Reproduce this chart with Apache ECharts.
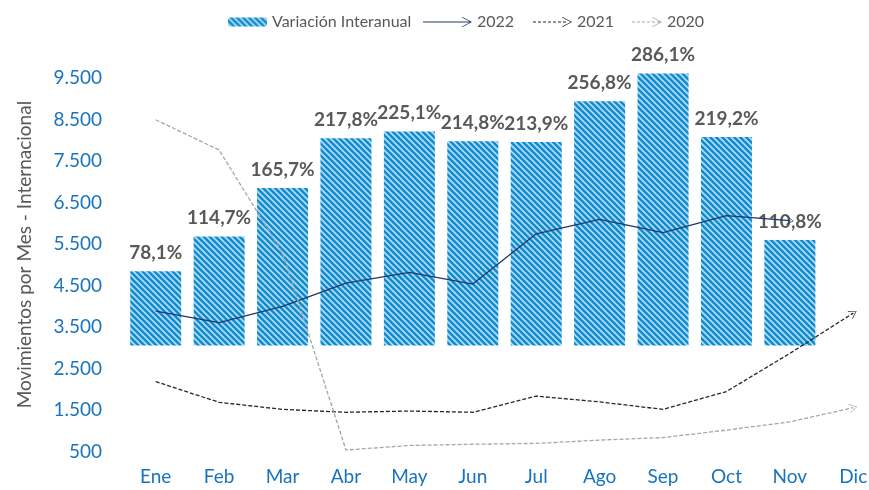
<!DOCTYPE html>
<html>
<head>
<meta charset="utf-8">
<script src="https://cdn.jsdelivr.net/npm/echarts@6/dist/echarts.min.js"></script>
<style>
  html, body { margin: 0; padding: 0; background: #fff; }
  #chart { width: 869px; height: 490px; }
</style>
</head>
<body>
<div id="chart"></div>
<script>
// datos
const meses = ['Ene', 'Feb', 'Mar', 'Abr', 'May', 'Jun', 'Jul', 'Ago', 'Sep', 'Oct', 'Nov', 'Dic'];
const variacion = [78.1, 114.7, 165.7, 217.8, 225.1, 214.8, 213.9, 256.8, 286.1, 219.2, 110.8];
const mov2022 = [3890, 3610, 4000, 4560, 4820, 4540, 5750, 6100, 5780, 6190, 6070];
const mov2021 = [2190, 1690, 1520, 1450, 1480, 1450, 1840, 1700, 1520, 1950, 2870, 3840];
const mov2020 = [8500, 7770, 5290, 540, 650, 680, 700, 780, 840, 1020, 1220, 1560];
const ticksY = [500, 1500, 2500, 3500, 4500, 5500, 6500, 7500, 8500, 9500];

const FONT = 'Lato';
const GRIS = '#595959';
const AZUL = '#1874BE';

// textura rayada de las barras
function stripes () {
  const c = document.createElement('canvas');
  c.width = 6;
  c.height = 6;
  const ctx = c.getContext('2d');
  ctx.fillStyle = '#138BCE';
  ctx.fillRect(0, 0, 6, 6);
  ctx.strokeStyle = '#b3e0f7';
  ctx.lineWidth = 1.6;
  ctx.beginPath();
  ctx.moveTo(-1, -1); ctx.lineTo(7, 7);
  ctx.moveTo(-1, 5); ctx.lineTo(1, 7);
  ctx.moveTo(5, -1); ctx.lineTo(7, 1);
  ctx.stroke();
  return c;
}

// icono de leyenda: linea (continua o a trazos) con punta de flecha abierta
function arrowIcon (w, dashed) {
  let p = '';
  if (dashed) {
    for (let x = 0; x < w - 4; x += 5) p += 'M' + x + ',4.4 h3 v1.2 h-3 Z ';
  } else {
    p += 'M0,4.4 H' + (w - 1) + ' V5.6 H0 Z ';
  }
  p += 'M' + (w - 10) + ',0.6 L' + (w - 9.4) + ',0 L' + w + ',5 L' + (w - 9.4) + ',10 L' +
       (w - 10) + ',9.4 L' + (w - 1.4) + ',5 Z';
  return 'path://' + p;
}
const chevron = 'path://M0.6,10 L0,9.4 L5,0 L10,9.4 L9.4,10 L5,1.4 Z';

function lastArrow (data, color) {
  const n = data.length - 1;
  return {
    silent: true,
    symbol: ['none', chevron],
    symbolSize: [9, 8],
    label: { show: false },
    lineStyle: { color: color, type: 'solid', width: 0 },
    data: [[{ coord: [n - 1, data[n - 1]] }, { coord: [n, data[n]] }]]
  };
}

const chart = echarts.init(document.getElementById('chart'));
const legendBase = {
  top: 9,
  itemHeight: 10,
  itemGap: 0,
  textStyle: { fontFamily: FONT, fontSize: 16, color: GRIS },
  itemStyle: { borderWidth: 0 },
  selectedMode: false
};

chart.setOption({
  animation: false,
  textStyle: { fontFamily: FONT },
  grid: { left: 124, right: -16, top: 57.5, bottom: 38.3, containLabel: false, outerBoundsMode: 'none' },
  legend: [
    Object.assign({}, legendBase, { left: 223, itemWidth: 39, itemHeight: 9, data: ['Variación Interanual'] }),
    Object.assign({}, legendBase, { left: 418, itemWidth: 49, data: [{ name: '2022', icon: arrowIcon(49, false) }] }),
    Object.assign({}, legendBase, { left: 528, itemWidth: 39, data: [{ name: '2021', icon: arrowIcon(39, true) }] }),
    Object.assign({}, legendBase, { left: 627, itemWidth: 30, data: [{ name: '2020', icon: arrowIcon(30, true) }] })
  ],
  xAxis: {
    type: 'category',
    data: meses,
    axisLine: { show: false },
    axisTick: { show: false },
    axisLabel: { color: AZUL, fontSize: 19, fontFamily: FONT, margin: 16 }
  },
  yAxis: [{
    type: 'value',
    min: 500,
    max: 10000,
    interval: 1000,
    name: 'Movimientos por Mes - Internacional',
    nameLocation: 'middle',
    nameGap: 90,
    nameTextStyle: { color: GRIS, fontSize: 19, fontFamily: FONT },
    axisLine: { show: false },
    axisTick: { show: false },
    splitLine: { show: false },
    axisLabel: {
      color: AZUL,
      fontSize: 19,
      fontFamily: FONT,
      margin: 22,
      customValues: ticksY,
      formatter: v => v.toLocaleString('de-DE')
    }
  }, {
    type: 'value',
    show: false,
    min: -111.7,
    max: 302.8,
    splitLine: { show: false }
  }],
  series: [{
    name: 'Variación Interanual',
    type: 'bar',
    yAxisIndex: 1,
    barWidth: 51,
    data: variacion,
    itemStyle: { color: { image: stripes(), repeat: 'repeat' } },
    label: {
      show: true,
      position: 'top',
      distance: 9,
      color: GRIS,
      fontSize: 19,
      fontWeight: 'bold',
      fontFamily: FONT,
      formatter: p => p.value.toFixed(1).replace('.', ',') + '%'
    }
  }, {
    name: '2022',
    type: 'line',
    data: mov2022,
    symbol: 'none',
    color: '#203864',
    lineStyle: { width: 1.3, color: '#203864' },
    markLine: lastArrow(mov2022, '#203864')
  }, {
    name: '2021',
    type: 'line',
    data: mov2021,
    symbol: 'none',
    color: '#262626',
    lineStyle: { width: 1.3, color: '#262626', type: [4, 2] },
    markLine: lastArrow(mov2021, '#262626')
  }, {
    name: '2020',
    type: 'line',
    data: mov2020,
    symbol: 'none',
    color: '#a6a6a6',
    lineStyle: { width: 1.3, color: '#a6a6a6', type: [4, 2] },
    markLine: lastArrow(mov2020, '#a6a6a6')
  }]
});
</script>
</body>
</html>
